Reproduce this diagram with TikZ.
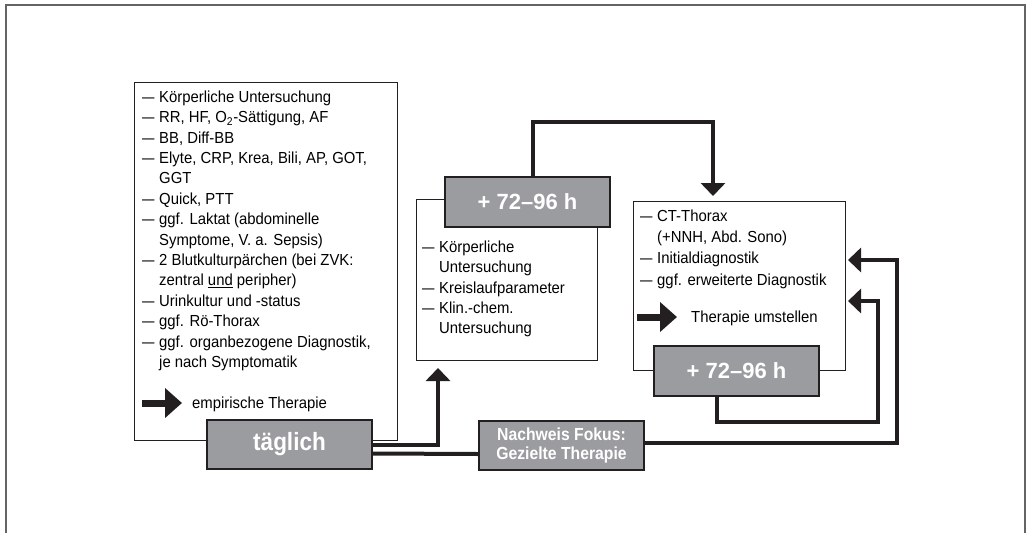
\documentclass[tikz,border=0pt]{standalone}
\usepackage{fontspec}
\setmainfont{Liberation Sans}[FakeStretch=0.93]
\newfontfamily\headfont{Liberation Sans}[FakeStretch=0.9]
\newfontfamily\plainfont{Liberation Sans}
\usepackage{graphicx}
\usetikzlibrary{arrows.meta}
\pgfdeclarelayer{edgelayer}
\pgfdeclarelayer{nodelayer}
\pgfsetlayers{edgelayer,nodelayer,main}
\definecolor{boxgray}{RGB}{155,156,160}
\definecolor{ink}{RGB}{35,31,32}
\definecolor{framegray}{RGB}{100,100,100}
\tikzstyle{none}=[inner sep=0pt]
\tikzstyle{white box}=[draw=ink, line width=1pt, fill=white, inner sep=0pt]
\tikzstyle{gray box}=[draw=ink, line width=2pt, fill=boxgray, inner sep=0pt, text=white, minimum width=165pt]
\tikzstyle{list}=[inner sep=0pt, anchor=north west, align=left, font={\fontsize{16}{20.4}\selectfont}]
\tikzstyle{label}=[inner sep=0pt, anchor=base west, font={\fontsize{16}{18}\selectfont}]
\tikzstyle{flow}=[draw=ink, line width=4pt]
\tikzstyle{flow arrow}=[flow, -{Triangle[width=24pt,length=13pt]}]
\tikzstyle{block arrow}=[draw=ink, line width=7pt, -{Triangle[width=29pt,length=17pt]}]
\tikzstyle{frame}=[draw=framegray, line width=2pt]
\newcommand{\itemdash}{\makebox[17pt][l]{\scalebox{1.5}[1]{–}}}
\newcommand{\itemgap}{\hspace*{17pt}}

\begin{document}
\begin{tikzpicture}[x=1pt, y=-1pt]
	\useasboundingbox (0, 0) rectangle (1028, 533);
	\begin{pgfonlayer}{nodelayer}
		\node [style=white box, minimum width=263pt, minimum height=358pt] (0) at (265.5, 261) {};
		\node [style=white box, minimum width=181pt, minimum height=161pt] (1) at (506.5, 279.5) {};
		\node [style=white box, minimum width=212pt, minimum height=169pt] (2) at (739, 285.5) {};
		\node [style=gray box, minimum height=49pt, font={\headfont\bfseries\fontsize{25}{25}\selectfont}] (3) at (289.5, 444.5) {täglich};
		\node [style=gray box, minimum height=50pt, font={\plainfont\bfseries\fontsize{22}{22}\selectfont}] (4) at (527.5, 202) {+ 72–96 h};
		\node [style=gray box, minimum height=50pt, font={\plainfont\bfseries\fontsize{22}{22}\selectfont}] (5) at (736.5, 371) {+ 72–96 h};
		\node [style=gray box, minimum height=49pt, align=center, font={\headfont\bfseries\fontsize{17.5}{19}\selectfont}] (6) at (561.5, 445.5) {Nachweis Fokus:\\Gezielte Therapie};
		\node [style=list] (7) at (142, 90.5) {\itemdash Körperliche Untersuchung\\
			\itemdash RR, HF, O\textsubscript{2}-Sättigung, AF\\
			\itemdash BB, Diff-BB\\
			\itemdash Elyte, CRP, Krea, Bili, AP, GOT,\\
			\itemgap GGT\\
			\itemdash Quick, PTT\\
			\itemdash ggf. Laktat (abdominelle\\
			\itemgap Symptome, V. a. Sepsis)\\
			\itemdash 2 Blutkulturpärchen (bei ZVK:\\
			\itemgap zentral \underline{und} peripher)\\
			\itemdash Urinkultur und -status\\
			\itemdash ggf. Rö-Thorax\\
			\itemdash ggf. organbezogene Diagnostik,\\
			\itemgap je nach Symptomatik};
		\node [style=list] (8) at (422, 240.5) {\itemdash Körperliche\\
			\itemgap Untersuchung\\
			\itemdash Kreislaufparameter\\
			\itemdash Klin.-chem.\\
			\itemgap Untersuchung};
		\node [style=list, font={\fontsize{16}{21.3}\selectfont}] (9) at (640, 209.5) {\itemdash CT-Thorax\\
			\itemgap (+NNH, Abd. Sono)\\
			\itemdash Initialdiagnostik\\
			\itemdash ggf. erweiterte Diagnostik};
		\node [style=label] (10) at (192, 408.5) {empirische Therapie};
		\node [style=label] (11) at (691, 322.5) {Therapie umstellen};
	\end{pgfonlayer}
	\begin{pgfonlayer}{edgelayer}
		\coordinate (12) at (438, 368);
		\coordinate (13) at (713, 122);
		\coordinate (14) at (713, 196);
		\coordinate (15) at (878, 422);
		\coordinate (16) at (848, 301);
		\coordinate (17) at (897, 443);
		\coordinate (18) at (848, 260);
		\draw [style=flow arrow] (3.east) -| (12);
		\draw [style=flow] ([yshift=-9pt]3.east) -- ([yshift=-8.5pt]6.west);
		\draw [style=flow arrow] ([xshift=5.5pt]4.north) |- (13) -- (14);
		\draw [style=flow arrow] ([xshift=-19.5pt]5.south) |- (15) |- (16);
		\draw [style=flow arrow] ([yshift=2.5pt]6.east) -- (17) |- (18);
	\end{pgfonlayer}
	\draw [style=block arrow] ([xshift=-50pt, yshift=5.5pt]10.base west) -- ([xshift=-10pt, yshift=5.5pt]10.base west);
	\draw [style=block arrow] ([xshift=-54pt, yshift=5.5pt]11.base west) -- ([xshift=-14pt, yshift=5.5pt]11.base west);
	\draw [style=frame] (6, 533) -- (6, 5) -- (1025, 5) -- (1025, 533);
\end{tikzpicture}
\end{document}
